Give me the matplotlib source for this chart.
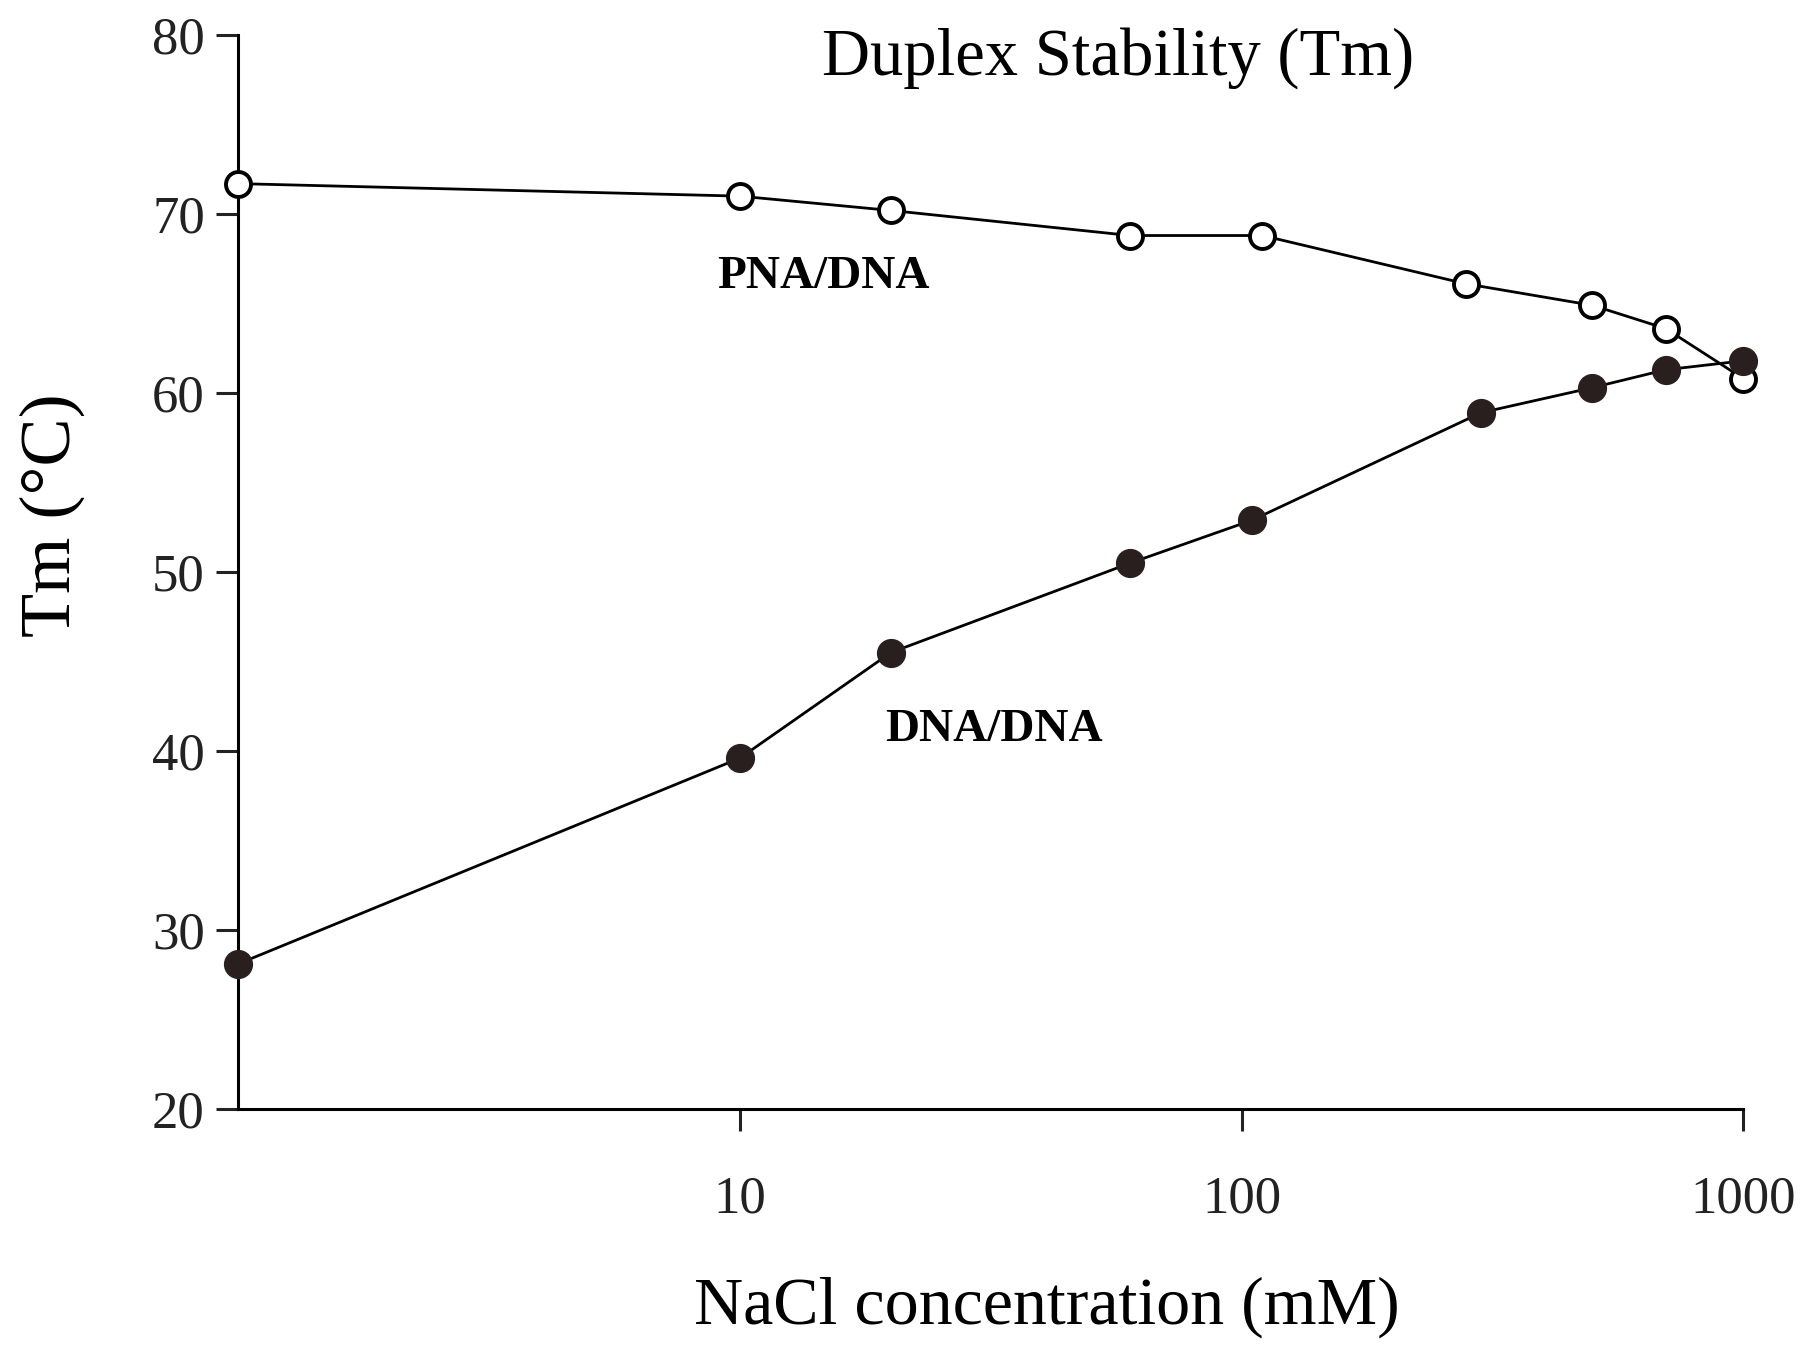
import matplotlib.pyplot as plt

# NaCl concentration (mM) and melting temperature (deg C)
pna_nacl = [1, 10, 20, 60, 110, 280, 500, 700, 1000]
pna_tm = [71.7, 71.0, 70.2, 68.8, 68.8, 66.1, 64.9, 63.6, 60.8]

dna_nacl = [1, 10, 20, 60, 105, 300, 500, 700, 1000]
dna_tm = [28.1, 39.6, 45.5, 50.5, 52.9, 58.9, 60.3, 61.3, 61.8]

yticks = [20, 30, 40, 50, 60, 70, 80]
xticks = [10, 100, 1000]
xticklabels = ["10", "100", "1000"]

plt.rcParams['font.family'] = ['Liberation Serif', 'DejaVu Serif']

fig = plt.figure(figsize=(18.18, 13.49), dpi=100)
ax = fig.add_axes([0.131, 0.178, 0.828, 0.796])

ax.plot(pna_nacl, pna_tm, color='black', lw=2.0, marker='o', ms=18,
        mfc='white', mec='black', mew=2.8, clip_on=False, zorder=3)
ax.plot(dna_nacl, dna_tm, color='black', lw=2.0, marker='o', ms=20,
        mfc='#2a1f1f', mec='#2a1f1f', clip_on=False, zorder=4)

ax.set_xscale('log')
ax.set_xlim(1, 1000)
ax.set_ylim(20, 80)
ax.set_yticks(yticks)
ax.set_xticks(xticks)
ax.set_xticklabels(xticklabels)
ax.minorticks_off()

for s in ['top', 'right']:
    ax.spines[s].set_visible(False)
for s in ['left', 'bottom']:
    ax.spines[s].set_linewidth(2.2)

ax.tick_params(axis='both', direction='out', length=16, width=2.2,
               labelsize=38, colors='#222222')
ax.tick_params(axis='x', pad=32)
ax.tick_params(axis='y', pad=8)

# x label sits a bit right of the axis centre in the original
fig.text(0.576, 0.031, "NaCl concentration (mM)", fontsize=49,
         ha='center', va='center')
fig.text(0.029, 0.618, "Tm (°C)", fontsize=52, rotation=90,
         ha='center', va='center')

fig.text(0.615, 0.957, "Duplex Stability (Tm)", fontsize=48,
         ha='center', va='center')

fig.text(0.453, 0.795, "PNA/DNA", fontsize=34,
         fontweight='bold', ha='center', va='center')
fig.text(0.547, 0.459, "DNA/DNA", fontsize=34,
         fontweight='bold', ha='center', va='center')

fig.savefig("out.png", dpi=100)
